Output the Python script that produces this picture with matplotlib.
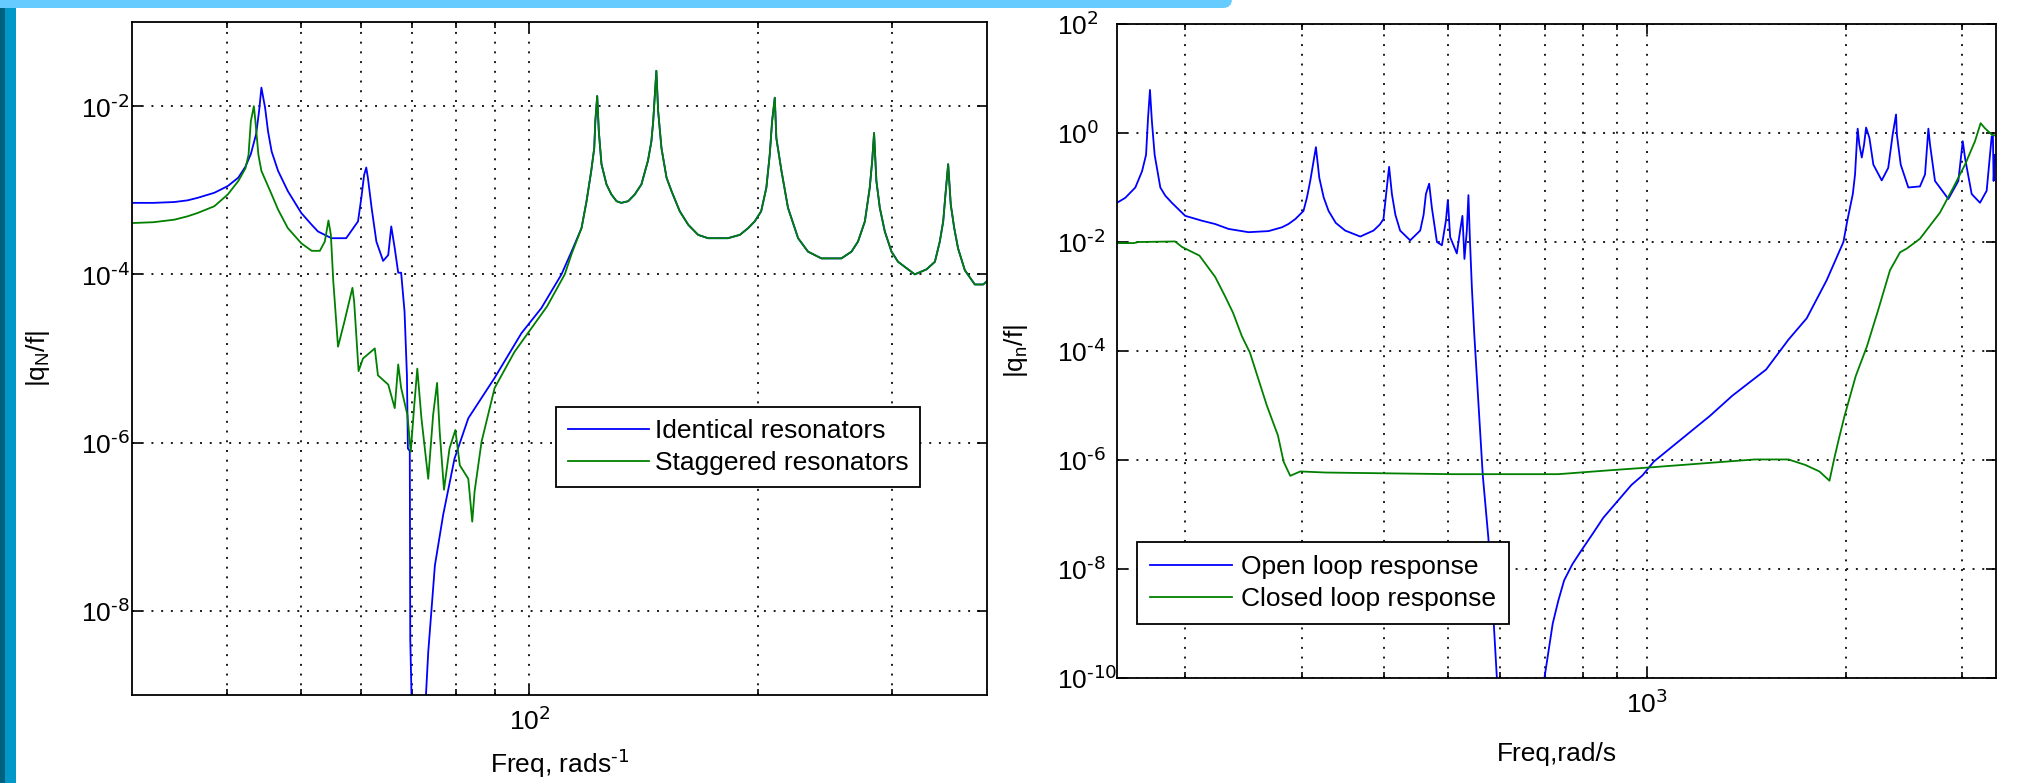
import numpy as np
import matplotlib
matplotlib.use("Agg")
import matplotlib.pyplot as plt
from matplotlib import font_manager
from matplotlib.patches import Rectangle, FancyBboxPatch
from matplotlib.transforms import IdentityTransform
from matplotlib.ticker import NullFormatter, NullLocator, FuncFormatter

# ---- left panel: identical vs staggered resonators (log10 of |q_N/f|) ----
freq_ident_low = [30.0, 32.0, 34.1, 35.5, 36.6, 38.5, 40.1, 41.4, 42.3, 43.0, 43.7, 44.1,
                  44.4, 44.9, 45.3, 45.8, 46.7, 48.1, 50.1, 51.7, 52.7, 54.9, 57.4, 59.5,
                  60.1, 60.6, 61.0, 61.3, 62.0, 62.9, 64.2, 65.2, 65.8, 66.5, 67.2, 67.8,
                  68.5, 69.0, 69.2, 69.6, 69.7, 70.0, 71.5, 73.0, 73.6, 75.1, 77.0, 79.7,
                  83.1, 90.0, 97.6, 103.7, 110.2, 113.6]
logmag_ident_low = [-3.15, -3.15, -3.14, -3.12, -3.09, -3.03, -2.95, -2.85, -2.72, -2.57, -2.33, -2.05,
                    -1.78, -2.02, -2.30, -2.54, -2.77, -3.01, -3.27, -3.41, -3.49, -3.57, -3.57, -3.37,
                    -3.09, -2.82, -2.73, -2.85, -3.21, -3.61, -3.84, -3.77, -3.43, -3.69, -3.98, -3.98,
                    -4.44, -5.20, -6.07, -6.10, -8.33, -9.10, -11.0, -9.10, -8.49, -7.46, -6.86, -6.19,
                    -5.71, -5.23, -4.70, -4.40, -4.00, -3.73]

freq_stag_low = [30.0, 32.0, 34.1, 35.5, 36.6, 38.5, 40.1, 41.4, 42.3, 42.7, 43.0, 43.4,
                 43.6, 44.0, 44.4, 45.8, 46.7, 48.1, 50.1, 51.7, 53.0, 53.8, 54.4, 54.8,
                 55.2, 56.0, 57.1, 58.5, 58.8, 59.6, 60.4, 62.6, 63.2, 65.2, 66.5, 67.2,
                 67.8, 69.1, 69.8, 70.5, 71.2, 72.1, 73.6, 74.7, 75.6, 76.2, 77.2, 78.5,
                 79.9, 81.0, 83.1, 84.1, 84.7, 86.5, 90.0, 95.6, 100.6, 105.5, 111.3, 113.6]
logmag_stag_low = [-3.39, -3.38, -3.35, -3.31, -3.27, -3.19, -3.05, -2.89, -2.74, -2.58, -2.18, -2.00,
                   -2.18, -2.58, -2.77, -3.05, -3.23, -3.45, -3.63, -3.72, -3.72, -3.61, -3.36, -3.53,
                   -4.08, -4.86, -4.56, -4.16, -4.32, -5.15, -5.00, -4.88, -5.20, -5.31, -5.59, -5.07,
                   -5.35, -5.67, -6.11, -5.59, -5.12, -5.71, -6.43, -5.67, -5.29, -5.87, -6.56, -6.07,
                   -5.85, -6.27, -6.43, -6.94, -6.58, -5.99, -5.35, -4.92, -4.64, -4.38, -4.00, -3.76]

# above ~117 rad/s both curves coincide
freq_common = [117.1, 118.9, 120.6, 121.7, 122.1, 122.8, 123.4, 124.4, 126.3, 128.2, 130.2, 132.1,
               134.9, 137.6, 140.4, 143.2, 144.7, 145.5, 146.9, 147.7, 149.2, 151.5, 153.8, 157.7,
               161.8, 166.7, 171.8, 182.5, 189.2, 194.0, 197.9, 201.8, 205.0, 207.1, 208.6, 210.3,
               211.3, 214.6, 218.9, 225.7, 232.6, 242.2, 257.3, 265.3, 270.6, 276.3, 280.4, 282.5,
               284.1, 286.1, 289.1, 293.5, 299.5, 305.5, 321.4, 333.1, 341.6, 346.7, 350.3, 352.7,
               355.6, 358.4, 362.2, 366.4, 374.0, 385.5, 395.4, 400.0]
logmag_common = [-3.45, -3.13, -2.77, -2.50, -2.18, -1.88, -2.30, -2.69, -2.93, -3.05, -3.13, -3.15,
                 -3.13, -3.05, -2.93, -2.65, -2.42, -2.18, -1.58, -2.06, -2.50, -2.85, -3.01, -3.25,
                 -3.41, -3.53, -3.57, -3.57, -3.53, -3.45, -3.37, -3.25, -2.97, -2.58, -2.18, -1.90,
                 -2.38, -2.77, -3.21, -3.57, -3.73, -3.81, -3.81, -3.73, -3.61, -3.37, -2.97, -2.65,
                 -2.32, -2.89, -3.21, -3.49, -3.73, -3.85, -4.00, -3.94, -3.85, -3.61, -3.37, -3.05,
                 -2.69, -3.17, -3.45, -3.69, -3.95, -4.12, -4.12, -4.08]

# ---- right panel: open vs closed loop (log10 of |q_n/f|) ----
freq_open = [157.7, 162.3, 168.1, 172.1, 174.5, 175.7, 176.9, 178.1, 179.8, 183.4, 186.6, 190.9,
             200.0, 212.1, 222.0, 232.6, 249.4, 267.4, 280.2, 286.6, 293.5, 302.0, 305.6, 309.2,
             315.4, 319.1, 324.0, 329.6, 338.0, 349.2, 368.1, 385.5, 394.0, 399.1, 403.8, 407.0,
             411.0, 416.0, 422.9, 438.0, 453.6, 459.0, 462.7, 468.0, 472.4, 480.8, 489.2, 496.1,
             499.5, 503.5, 515.3, 521.3, 525.5, 529.2, 533.6, 536.6, 539.2, 543.0, 547.5, 564.1,
             575.2, 586.5, 592.3, 640.0, 699.3, 719.8, 734.0, 748.9, 771.0, 794.3, 825.6, 858.5,
             901.5, 946.6, 984.5, 1023.6, 1245.0, 1346.0, 1514.0, 1637.0, 1744.0, 1870.0, 1982.0, 2009.0,
             2048.0, 2064.0, 2076.0, 2083.0, 2095.0, 2113.0, 2130.0, 2145.0, 2170.0, 2200.0, 2265.0, 2317.0,
             2353.0, 2381.0, 2388.0, 2420.0, 2485.0, 2588.0, 2634.0, 2665.0, 2680.0, 2727.0, 2857.0, 2958.0,
             3004.0, 3028.0, 3099.0, 3190.0, 3265.0, 3323.0, 3337.0, 3345.0, 3360.0, 3373.0]
logmag_open = [-1.28, -1.19, -1.00, -0.70, -0.40, 0.27, 0.79, 0.21, -0.40, -1.00, -1.15, -1.28,
               -1.52, -1.61, -1.67, -1.76, -1.82, -1.80, -1.73, -1.67, -1.58, -1.43, -1.19, -0.88,
               -0.26, -0.82, -1.18, -1.43, -1.65, -1.79, -1.90, -1.79, -1.68, -1.58, -1.00, -0.62,
               -1.12, -1.50, -1.79, -1.97, -1.79, -1.50, -1.12, -0.93, -1.37, -2.00, -2.06, -1.61,
               -1.23, -1.91, -2.21, -1.79, -1.52, -2.31, -1.79, -1.14, -1.91, -2.82, -3.67, -6.28,
               -7.43, -9.06, -9.97, -12.0, -10.0, -9.00, -8.58, -8.21, -7.91, -7.67, -7.37, -7.06,
               -6.76, -6.46, -6.28, -6.03, -5.19, -4.82, -4.34, -3.79, -3.40, -2.70, -2.00, -1.61,
               -1.12, -0.76, -0.21, 0.08, -0.21, -0.45, -0.21, 0.10, -0.09, -0.58, -0.87, -0.64,
               -0.03, 0.34, -0.03, -0.58, -1.00, -0.98, -0.76, 0.08, -0.21, -0.88, -1.21, -0.88,
               -0.15, -0.46, -1.12, -1.28, -1.06, -0.06, -0.06, -0.88, -0.40, -0.50]

freq_closed = [157.7, 167.1, 170.0, 193.1, 197.7, 210.2, 222.0, 229.9, 236.3, 243.7, 250.6, 265.8,
               276.3, 281.8, 288.4, 298.7, 326.2, 506.0, 734.0, 875.0, 1000.0, 1221.0, 1455.0, 1637.0,
               1735.0, 1823.0, 1888.0, 1920.0, 1951.0, 1990.0, 2069.0, 2152.0, 2237.0, 2331.0, 2414.0,
               2472.0, 2588.0, 2775.0, 2907.0, 3028.0, 3135.0, 3197.0, 3244.0, 3323.0, 3373.0]
logmag_closed = [-2.02, -2.02, -2.00, -1.99, -2.09, -2.25, -2.64, -3.00, -3.30, -3.73, -4.03, -5.00,
                 -5.55, -6.03, -6.29, -6.21, -6.23, -6.26, -6.26, -6.19, -6.14, -6.06, -5.99, -5.99,
                 -6.09, -6.21, -6.38, -5.97, -5.61, -5.19, -4.46, -3.91, -3.25, -2.52, -2.19,
                 -2.12, -1.94, -1.46, -1.00, -0.58, -0.15, 0.18, 0.09, -0.03, -0.05]

names = {f.name for f in font_manager.fontManager.ttflist}
font = 'Liberation Sans Narrow' if 'Liberation Sans Narrow' in names else 'Liberation Sans'
FS = 19
plt.rcParams.update({
    'font.family': [font, 'DejaVu Sans'],
    'mathtext.default': 'regular',
    'font.size': FS,
})

BLUE = (0, 0, 1)
GREEN = (0, 0.5, 0)

fig = plt.figure(figsize=(20.35, 7.83), dpi=100)
fig.patch.set_facecolor('white')

# slide decoration: left strip and top bar
px = IdentityTransform()
fig.patches.append(Rectangle((0, 0), 5, 775, transform=px, fc='#00607f', ec='none'))
fig.patches.append(Rectangle((5, 0), 11, 775, transform=px, fc='#0098c9', ec='none'))
fig.patches.append(FancyBboxPatch((-30, 775), 1262, 40, boxstyle="round,pad=0,rounding_size=9",
                                  transform=px, fc='#66ccff', ec='none'))

ax1 = fig.add_axes([132/2035, 88/783, 855/2035, 673/783])
ax2 = fig.add_axes([1117/2035, 105/783, 879/2035, 654/783])

ax1.loglog(freq_ident_low + freq_common, 10.0**np.array(logmag_ident_low + logmag_common),
           color=BLUE, lw=1.3, label='Identical resonators')
ax1.loglog(freq_stag_low + freq_common, 10.0**np.array(logmag_stag_low + logmag_common),
           color=GREEN, lw=1.3, label='Staggered resonators')

ax2.loglog(freq_open, 10.0**np.array(logmag_open), color=BLUE, lw=1.3, label='Open loop response')
ax2.loglog(freq_closed, 10.0**np.array(logmag_closed), color=GREEN, lw=1.3, label='Closed loop response')

# MATLAB-style "10^-2" labels with a plain hyphen
pow10 = FuncFormatter(lambda v, pos: r'$10^{\text{%d}}$' % round(np.log10(v)))


def style(ax, xlim, ylim, yticks, xmajor, xminor, ypad):
    ax.set_xlim(xlim)
    ax.set_ylim(ylim)
    ax.set_yticks(yticks)
    ax.yaxis.set_minor_locator(NullLocator())
    ax.yaxis.set_major_formatter(pow10)
    ax.set_xticks(xmajor)
    ax.xaxis.set_major_formatter(pow10)
    ax.set_xticks(xminor, minor=True)
    ax.xaxis.set_minor_formatter(NullFormatter())
    ax.tick_params(which='both', direction='in', top=True, right=True, width=1.2, labelsize=FS)
    ax.tick_params(which='major', length=7)
    ax.tick_params(which='minor', length=4.5)
    ax.tick_params(axis='x', pad=9)
    ax.tick_params(axis='y', pad=ypad)
    for lab in ax.get_yticklabels():
        lab.set_horizontalalignment('left')
    dots = dict(ls=(0, (1, 4)), color='0.1', lw=1.4)
    ax.grid(True, which='major', axis='both', **dots)
    ax.grid(True, which='minor', axis='x', **dots)
    for s in ax.spines.values():
        s.set_linewidth(1.3)


style(ax1, (30, 400), (1e-9, 1e-1), [1e-8, 1e-6, 1e-4, 1e-2], [100],
      [40, 50, 60, 70, 80, 90, 200, 300], 37)
style(ax2, (157.7, 3373), (1e-10, 1e2), [1e-10, 1e-8, 1e-6, 1e-4, 1e-2, 1e0, 1e2], [1000],
      [200, 300, 400, 500, 600, 700, 800, 900, 2000, 3000], 43)

ax1.set_xlabel(r'Freq, rads$^{\text{-1}}$', fontsize=FS)
ax1.xaxis.set_label_coords(0.5, -0.077)
ax1.set_ylabel('|q$_N$/f|', fontsize=FS)
ax1.yaxis.set_label_coords(-0.094, 0.5)

ax2.set_xlabel('Freq,rad/s', fontsize=FS)
ax2.xaxis.set_label_coords(0.5, -0.098)
ax2.set_ylabel('|q$_n$/f|', fontsize=FS)
ax2.yaxis.set_label_coords(-0.099, 0.5)

legend_kw = dict(loc='upper left', fontsize=FS, frameon=True, fancybox=False, edgecolor='k',
                 framealpha=1, labelspacing=0.3, borderaxespad=0)
leg1 = ax1.legend(bbox_to_anchor=(0.4959, 0.4279), borderpad=0.45, handlelength=3.07,
                  handletextpad=0.23, **legend_kw)
leg2 = ax2.legend(bbox_to_anchor=(0.0228, 0.208), borderpad=0.5, handlelength=3.1,
                  handletextpad=0.34, **legend_kw)
for leg in (leg1, leg2):
    leg.get_frame().set_linewidth(1.3)

fig.savefig('out.png', dpi=100)
